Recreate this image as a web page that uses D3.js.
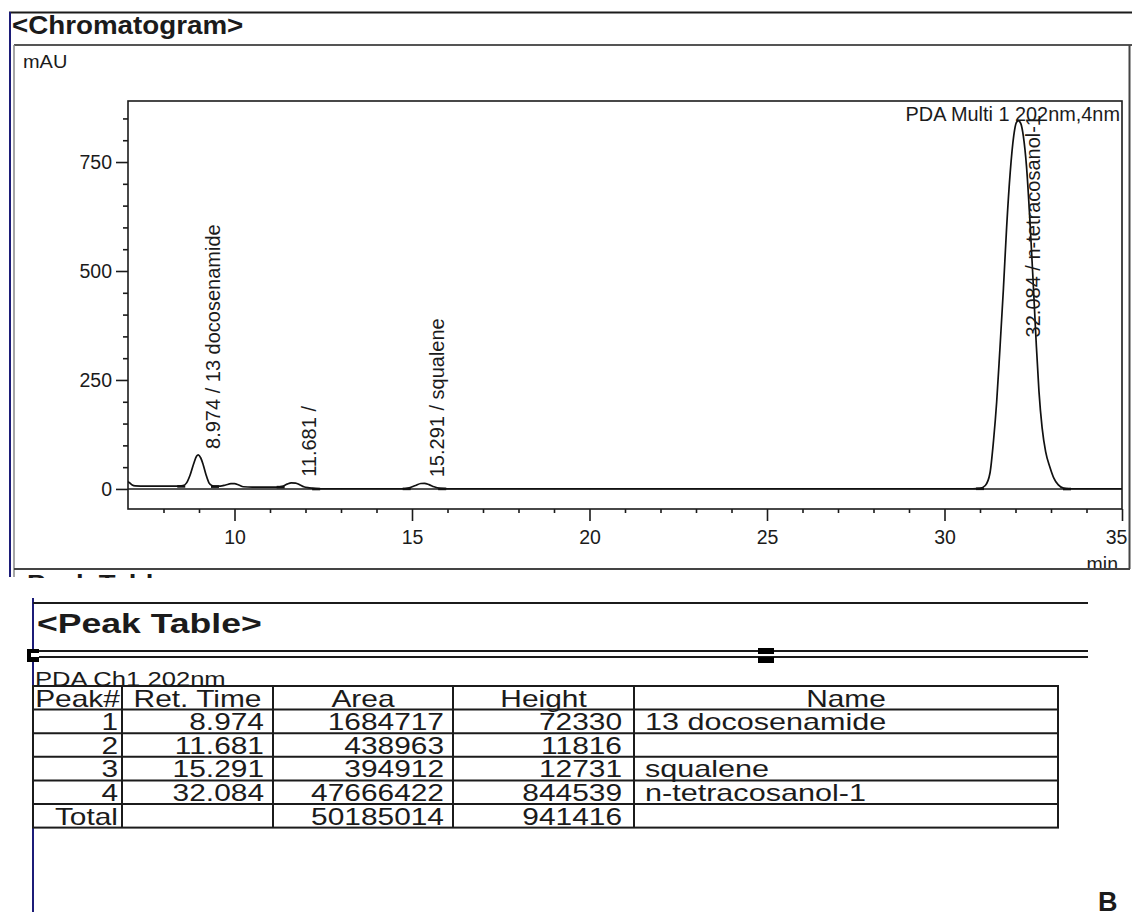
<!DOCTYPE html>
<html>
<head>
<meta charset="utf-8">
<script src="https://cdn.jsdelivr.net/npm/d3@7"></script>
<style>
  body { margin: 0; background: #fff; }
  svg { display: block; font-family: "Liberation Sans", Arial, sans-serif; }
</style>
</head>
<body>
<svg id="fig" width="1132" height="912"></svg>
<script>
// ---- data ----
// chromatogram trace (time in min, signal in mAU)
const traceTime = [7.00, 7.06, 7.12, 7.20, 7.50, 8.00, 8.45, 8.55, 8.65, 8.75, 8.85, 8.93, 8.98, 9.05, 9.12, 9.20, 9.28, 9.36, 9.45,
  9.60, 9.75, 9.90, 10.00, 10.12, 10.25, 10.50, 11.20, 11.35, 11.48, 11.60, 11.72, 11.85, 11.95, 12.10, 12.30, 12.50,
  14.80, 14.95, 15.10, 15.25, 15.35, 15.48, 15.62, 15.80, 16.00, 30.80, 31.00, 31.15, 31.28, 31.38, 31.47, 31.56, 31.66,
  31.75, 31.85, 31.95, 32.02, 32.08, 32.15, 32.22, 32.31, 32.41, 32.50, 32.58, 32.66, 32.75, 32.85, 32.97, 33.08, 33.20,
  33.35, 33.50, 35.00];
const traceMAU = [17, 13, 9, 7, 6.5, 6.5, 6.5, 7.5, 14, 32, 58, 75, 78, 71, 55, 32, 14, 8, 6.5,
  6.5, 9, 12, 12, 9, 5, 4, 4, 6, 11, 14, 13.5, 9, 5, 2.5, 1, 0.5,
  0.5, 3, 8, 12.5, 13, 10, 5, 1.5, 0.5, 0.5, 1.5, 8, 36, 110, 200, 320, 460,
  600, 725, 810, 840, 845, 838, 810, 740, 610, 470, 340, 225, 140, 85, 50, 25, 10,
  2, 0.5, 0.5];

// peak table
const peakNo = [1, 2, 3, 4];
const retTime = [8.974, 11.681, 15.291, 32.084];
const peakArea = [1684717, 438963, 394912, 47666422];
const peakHeight = [72330, 11816, 12731, 844539];
const peakName = ["13 docosenamide", "", "squalene", "n-tetracosanol-1"];
const totalArea = 50185014;
const totalHeight = 941416;

// integration start / end of each peak
const peakStart = [8.50, 11.30, 14.85, 31.00];
const peakEnd = [9.45, 12.30, 15.85, 33.45];

// axes
const xTicks = [10, 15, 20, 25, 30, 35];
const yTicks = [0, 250, 500, 750];
const tableHeaders = ["Peak#", "Ret. Time", "Area", "Height", "Name"];

// ---- drawing ----
const svg = d3.select("#fig");
const ink = "#1b1b1b";

// text with a horizontal stretch (the screenshot is wider than tall)
function stext(g, x, y, str, o) {
  return g.append("text")
    .attr("transform", `translate(${x},${y}) scale(${o.sx || 1},1)`)
    .attr("text-anchor", o.anchor || "start")
    .style("font-size", o.size + "px")
    .style("font-weight", o.weight || "normal")
    .attr("fill", ink)
    .text(str);
}

/* outer frame of the chromatogram block */
const defs = svg.append("defs");
defs.append("clipPath").attr("id", "frameClip")
  .append("rect").attr("x", 0).attr("y", 0).attr("width", 1132).attr("height", 568);
defs.append("clipPath").attr("id", "plotClip")
  .append("rect").attr("x", 128).attr("y", 101).attr("width", 994).attr("height", 408);
defs.append("clipPath").attr("id", "stubClip")
  .append("rect").attr("x", 0).attr("y", 572).attr("width", 400).attr("height", 6);

const frame = svg.append("g");
frame.append("line").attr("x1", 9).attr("x2", 1132).attr("y1", 12.5).attr("y2", 12.5)
  .attr("stroke", ink).attr("stroke-width", 2);
frame.append("line").attr("x1", 14).attr("x2", 1132).attr("y1", 45).attr("y2", 45)
  .attr("stroke", "#555").attr("stroke-width", 2);
frame.append("line").attr("x1", 10).attr("x2", 10).attr("y1", 12).attr("y2", 577)
  .attr("stroke", "#1c1c78").attr("stroke-width", 2);
frame.append("line").attr("x1", 14).attr("x2", 14).attr("y1", 45).attr("y2", 577)
  .attr("stroke", "#888").attr("stroke-width", 1.5);
frame.append("line").attr("x1", 14).attr("x2", 1130).attr("y1", 569).attr("y2", 569)
  .attr("stroke", "#444").attr("stroke-width", 2);
frame.append("line").attr("x1", 1129.5).attr("x2", 1129.5).attr("y1", 45).attr("y2", 569)
  .attr("stroke", "#444").attr("stroke-width", 2);

stext(frame, 12, 34, "<Chromatogram>", { size: 25, weight: "bold", sx: 1.11 });
stext(frame, 23, 68, "mAU", { size: 19, sx: 1.05 });

// scales
const x = d3.scaleLinear().domain([7, 35]).range([128, 1122]);
const y = d3.scaleLinear().domain([-46, 890]).range([509, 101]);

const plot = svg.append("g");

// minor / major ticks
const xMinor = d3.range(8, 35, 1).filter(v => v % 5 !== 0);
const yMinor = d3.range(50, 900, 50).filter(v => v % 250 !== 0);

plot.append("g").attr("transform", "translate(0,509)")
  .call(d3.axisBottom(x).tickValues(xMinor).tickSize(4).tickFormat(""));
const xAxisG = plot.append("g").attr("transform", "translate(0,509)")
  .call(d3.axisBottom(x).tickValues(xTicks).tickSize(12).tickPadding(9).tickFormat(d3.format("d")));
plot.append("g").attr("transform", "translate(128,0)")
  .call(d3.axisLeft(y).tickValues(yMinor).tickSize(5).tickFormat(""));
plot.append("g").attr("transform", "translate(128,0)")
  .call(d3.axisLeft(y).tickValues(yTicks).tickSize(12).tickPadding(4).tickFormat(d3.format("d")));

plot.selectAll(".domain").remove();
plot.selectAll(".tick line").attr("stroke", ink).attr("stroke-width", 1.6);
plot.selectAll(".tick text").attr("fill", ink)
  .style("font-size", "19.5px").style("font-family", "'Liberation Sans', Arial, sans-serif");
// the last label is pulled inside the frame, as in the original
xAxisG.selectAll(".tick text").filter(d => d === 35).attr("x", -6);

// plot box and zero line
plot.append("rect").attr("x", 128).attr("y", 101).attr("width", 994).attr("height", 408)
  .attr("fill", "none").attr("stroke", ink).attr("stroke-width", 1.6);
plot.append("line").attr("x1", 128).attr("x2", 1122).attr("y1", y(0)).attr("y2", y(0))
  .attr("stroke", ink).attr("stroke-width", 1.5);

stext(plot, 1120, 121, "PDA Multi 1 202nm,4nm", { size: 19.5, anchor: "end", sx: 1.02 });

const inner = svg.append("g").attr("clip-path", "url(#plotClip)");

// the trace
const trace = traceTime.map((t, i) => ({ t: t, v: traceMAU[i] }));
const line = d3.line().x(d => x(d.t)).y(d => y(d.v)).curve(d3.curveMonotoneX);
inner.append("path").datum(trace).attr("d", line)
  .attr("fill", "none").attr("stroke", "#111").attr("stroke-width", 1.7);

// integration marks at start and end of each peak
const levelAt = t => {
  const i = d3.bisector(d => d.t).left(trace, t);
  const a = trace[Math.max(i - 1, 0)], b = trace[Math.min(i, trace.length - 1)];
  return a.t === b.t ? a.v : a.v + (b.v - a.v) * (t - a.t) / (b.t - a.t);
};
const marks = [];
peakStart.forEach((t, i) => { marks.push(t); marks.push(peakEnd[i]); });
inner.selectAll("line.mark").data(marks).join("line").attr("class", "mark")
  .attr("x1", d => x(d) - 4).attr("x2", d => x(d) + 4)
  .attr("y1", d => y(levelAt(d)) + 0.5).attr("y2", d => y(levelAt(d)) + 0.5)
  .attr("stroke", "#111").attr("stroke-width", 2.6);

// rotated peak labels
retTime.forEach((rt, i) => {
  const apex = d3.max(trace.filter(d => Math.abs(d.t - rt) < 0.3), d => d.v);
  const lbl = inner.append("text")
    .style("font-size", "20px").attr("fill", ink)
    .text(`${rt.toFixed(3)} / ${peakName[i]}`);
  const len = lbl.node().getComputedTextLength();
  let y0 = y(apex) - 6;
  if (y0 - len < 101) y0 = 101 + len + 14;
  lbl.attr("transform", `translate(${x(rt) + 22},${y0}) rotate(-90)`);
});

// "min" sits under the frame line and gets cut
svg.append("g").attr("clip-path", "url(#frameClip)")
  .call(g => stext(g, 1118, 571, "min", { size: 19.5, anchor: "end" }));

/* peak table block */
const tb = svg.append("g");
tb.append("g").attr("clip-path", "url(#stubClip)")
  .call(g => stext(g, 27, 590, "Peak Table", { size: 22, weight: "bold", sx: 1.25 }));

tb.append("line").attr("x1", 33).attr("x2", 33).attr("y1", 598).attr("y2", 912)
  .attr("stroke", "#1c1c78").attr("stroke-width", 2);
tb.append("line").attr("x1", 33).attr("x2", 1088).attr("y1", 603).attr("y2", 603)
  .attr("stroke", ink).attr("stroke-width", 2);
[651, 657].forEach(v => tb.append("line").attr("x1", 33).attr("x2", 1088).attr("y1", v).attr("y2", v)
  .attr("stroke", ink).attr("stroke-width", 2));

// selection handles
tb.append("rect").attr("x", 27).attr("y", 649).attr("width", 12).attr("height", 13).attr("fill", "#000");
tb.append("rect").attr("x", 31).attr("y", 653).attr("width", 8).attr("height", 4).attr("fill", "#fff");
tb.append("rect").attr("x", 758).attr("y", 648).attr("width", 16).attr("height", 6).attr("fill", "#000");
tb.append("rect").attr("x", 758).attr("y", 657).attr("width", 16).attr("height", 6).attr("fill", "#000");

stext(tb, 37, 633, "<Peak Table>", { size: 28, weight: "bold", sx: 1.27 });
stext(tb, 35, 686, "PDA Ch1 202nm", { size: 21, sx: 1.22 });

// table grid
const colX = [33, 122, 273, 453, 634, 1058];
const rowTop = 686, rowH = 23.6;
const rows = [tableHeaders].concat(peakNo.map((p, i) => [
  String(p), retTime[i].toFixed(3), String(peakArea[i]), String(peakHeight[i]), peakName[i]
])).concat([["Total", "", String(totalArea), String(totalHeight), ""]]);

const grid = tb.append("g");
grid.append("rect").attr("x", colX[0]).attr("y", rowTop)
  .attr("width", colX[5] - colX[0]).attr("height", rowH * rows.length)
  .attr("fill", "none").attr("stroke", ink).attr("stroke-width", 2);
colX.slice(1, 5).forEach(cx => grid.append("line").attr("x1", cx).attr("x2", cx)
  .attr("y1", rowTop).attr("y2", rowTop + rowH * rows.length).attr("stroke", ink).attr("stroke-width", 2));
d3.range(1, rows.length).forEach(r => grid.append("line").attr("x1", colX[0]).attr("x2", colX[5])
  .attr("y1", rowTop + r * rowH).attr("y2", rowTop + r * rowH).attr("stroke", ink).attr("stroke-width", 2));

const padR = [4, 9, 9, 12];
rows.forEach((row, r) => {
  const by = rowTop + r * rowH + 20.5;
  row.forEach((cell, c) => {
    if (!cell) return;
    if (r === 0) {
      stext(grid, (colX[c] + colX[c + 1]) / 2, by, cell, { size: 23, sx: 1.3, anchor: "middle" });
    } else if (c === 4) {
      stext(grid, colX[c] + 11, by, cell, { size: 23, sx: 1.33 });
    } else {
      stext(grid, colX[c + 1] - padR[c], by, cell, { size: 23, sx: 1.3, anchor: "end" });
    }
  });
});

stext(tb, 1098, 911, "B", { size: 27, weight: "bold" });
</script>
</body>
</html>
